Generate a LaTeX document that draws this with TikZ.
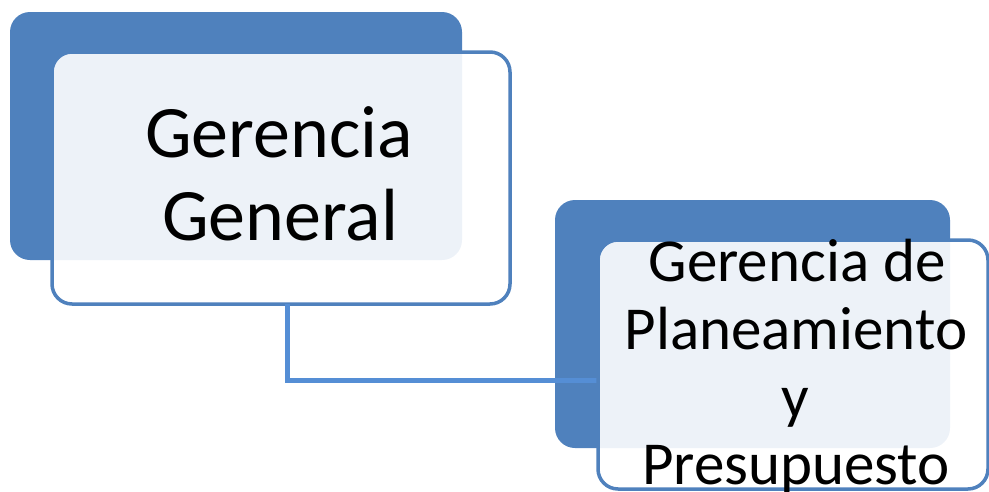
\documentclass[tikz,border=0pt]{standalone}
\usepackage{fontspec}
\setmainfont{Carlito}
\definecolor{darkblue}{HTML}{4F81BD}
\definecolor{linkblue}{HTML}{558ED5}
\begin{document}
\begin{tikzpicture}[x=1pt,y=-1pt,
  backbox/.style={fill=darkblue, rounded corners=20pt},
  frontbox/.style={draw=darkblue, line width=3.5pt, fill=white, fill opacity=0.9, rounded corners=20pt},
  bigtxt/.style={anchor=base, inner sep=0pt, font=\fontsize{74}{88}\selectfont},
  midtxt/.style={anchor=base, inner sep=0pt, font=\fontsize{61}{72}\selectfont},
  link/.style={draw=linkblue, line width=5pt}]
\useasboundingbox (0,0) rectangle (989,491);
% box 1
\fill[backbox] (10,12) rectangle (462,260);
\draw[frontbox] (52,52) rectangle (510,304);
\coordinate (f1b) at (287,304);
\node[bigtxt] (t1a) at (279,157) {Gerencia};
\node[bigtxt] (t1b) at (280,240) {General};
% box 2
\fill[backbox] (555,200) rectangle (950,448);
\coordinate (f2l) at (598,380);
\coordinate (corner) at (287,380);
\draw[link] (f1b) -- (corner) -- (f2l);
\draw[frontbox] (598,240) rectangle (988,489);
\node[midtxt] (t2a) at (797,281) {Gerencia de};
\node[midtxt] (t2b) at (796,349) {Planeamiento};
\node[midtxt] (t2c) at (795,417) {y};
\node[midtxt] (t2d) at (796,484) {Presupuesto};
\end{tikzpicture}
\end{document}
